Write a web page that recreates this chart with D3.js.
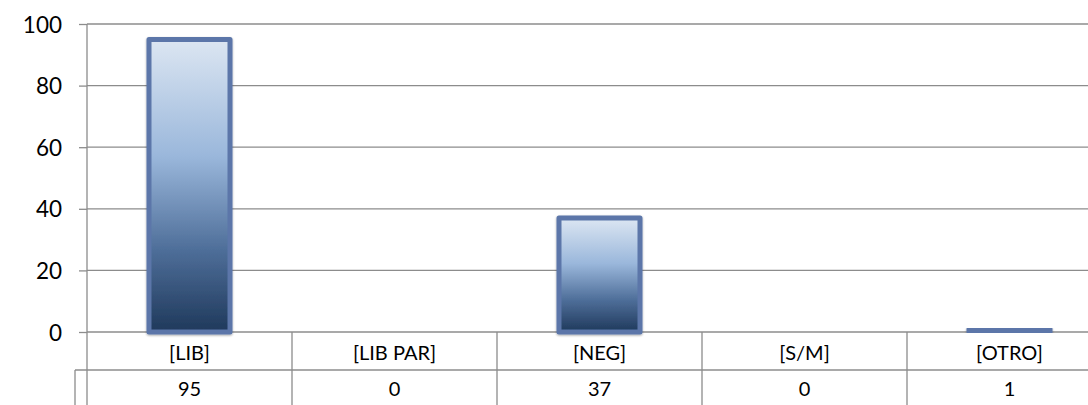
<!DOCTYPE html>
<html>
<head>
<meta charset="utf-8">
<script src="https://cdn.jsdelivr.net/npm/d3@7"></script>
<style>
  html, body { margin: 0; padding: 0; background: #fff; }
  svg { display: block; }
  text { font-family: Lato, "Liberation Sans", sans-serif; fill: #000; }
</style>
</head>
<body>
<svg id="chart" width="1088" height="405"></svg>
<script>
// Chart data
const categories = ["[LIB]", "[LIB PAR]", "[NEG]", "[S/M]", "[OTRO]"];
const values = [95, 0, 37, 0, 1];
const yTicks = [0, 20, 40, 60, 80, 100];

const W = 1088, H = 405;
const left = 87, colW = 205;
const right = left + categories.length * colW; // table runs past the right edge
const y0 = 332, y100 = 24;
const row1 = 370;
const gridColor = "#8c8c8c";

const svg = d3.select("#chart");

const x = d3.scaleBand()
  .domain(categories)
  .range([left, right])
  .paddingInner(1 - 81 / colW)
  .paddingOuter((1 - 81 / colW) / 2);

const y = d3.scaleLinear().domain([0, 100]).range([y0, y100]);

// Gradient fill and soft shadow for the bars
const defs = svg.append("defs");
const grad = defs.append("linearGradient")
  .attr("id", "barGrad").attr("x1", 0).attr("y1", 0).attr("x2", 0).attr("y2", 1);
[[0, "#dce6f2"], [0.4, "#9ab7db"], [0.72, "#4e6e99"], [1, "#1f395b"]]
  .forEach(([o, c]) => grad.append("stop").attr("offset", o).attr("stop-color", c));
const shadow = defs.append("filter").attr("id", "shadow")
  .attr("x", "-10%").attr("y", "-10%").attr("width", "120%").attr("height", "120%");
shadow.append("feDropShadow").attr("dx", 0).attr("dy", 1)
  .attr("stdDeviation", 1.2).attr("flood-color", "#000").attr("flood-opacity", 0.35);

// Gridlines and ticks
const yAxis = svg.append("g")
  .attr("transform", `translate(${left},0)`)
  .call(d3.axisLeft(y).tickValues(yTicks).tickSize(8).tickPadding(0).tickFormat(d3.format("d")));
yAxis.select(".domain").remove();
yAxis.selectAll(".tick line").attr("stroke", gridColor).attr("stroke-width", 1.3);
yAxis.selectAll(".tick text").remove();

svg.append("g").selectAll("line").data(yTicks).join("line")
  .attr("x1", left).attr("x2", W)
  .attr("y1", d => y(d)).attr("y2", d => y(d))
  .attr("stroke", gridColor).attr("stroke-width", 1.3);

// Y tick labels
svg.append("g").selectAll("text").data(yTicks).join("text")
  .attr("x", 62).attr("y", d => y(d))
  .attr("text-anchor", "end").attr("dominant-baseline", "central")
  .attr("font-size", 22.5)
  .text(d => d3.format("d")(d));

// Vertical axis line through the plot and table
svg.append("line")
  .attr("x1", left).attr("x2", left).attr("y1", y100).attr("y2", H)
  .attr("stroke", gridColor).attr("stroke-width", 1.3);

// Bars
svg.append("g").selectAll("rect").data(values).join("rect")
  .attr("x", (d, i) => x(categories[i]))
  .attr("width", x.bandwidth())
  .attr("y", d => y(d))
  .attr("height", d => y(0) - y(d))
  .attr("fill", "url(#barGrad)")
  .attr("stroke", "#5b76a9")
  .attr("stroke-width", 5)
  .attr("stroke-linejoin", "round")
  .attr("filter", "url(#shadow)")
  .style("display", d => d > 0 ? null : "none");

// Data table below the axis
const table = svg.append("g");
table.append("line")
  .attr("x1", 75).attr("x2", W).attr("y1", row1).attr("y2", row1)
  .attr("stroke", gridColor).attr("stroke-width", 1.3);
table.append("line")
  .attr("x1", 75).attr("x2", 75).attr("y1", row1).attr("y2", H)
  .attr("stroke", gridColor).attr("stroke-width", 1.3);
table.selectAll("line.div").data(categories.slice(1)).join("line")
  .attr("class", "div")
  .attr("x1", (d, i) => left + (i + 1) * colW).attr("x2", (d, i) => left + (i + 1) * colW)
  .attr("y1", y0).attr("y2", H)
  .attr("stroke", gridColor).attr("stroke-width", 1.3);

table.selectAll("text.cat").data(categories).join("text")
  .attr("class", "cat")
  .attr("x", d => x(d) + x.bandwidth() / 2)
  .attr("y", (y0 + row1) / 2 + 1)
  .attr("text-anchor", "middle").attr("dominant-baseline", "central")
  .attr("font-size", 20)
  .text(d => d);

table.selectAll("text.val").data(values).join("text")
  .attr("class", "val")
  .attr("x", (d, i) => x(categories[i]) + x.bandwidth() / 2)
  .attr("y", 388)
  .attr("text-anchor", "middle").attr("dominant-baseline", "central")
  .attr("font-size", 20)
  .text(d => d);
</script>
</body>
</html>
